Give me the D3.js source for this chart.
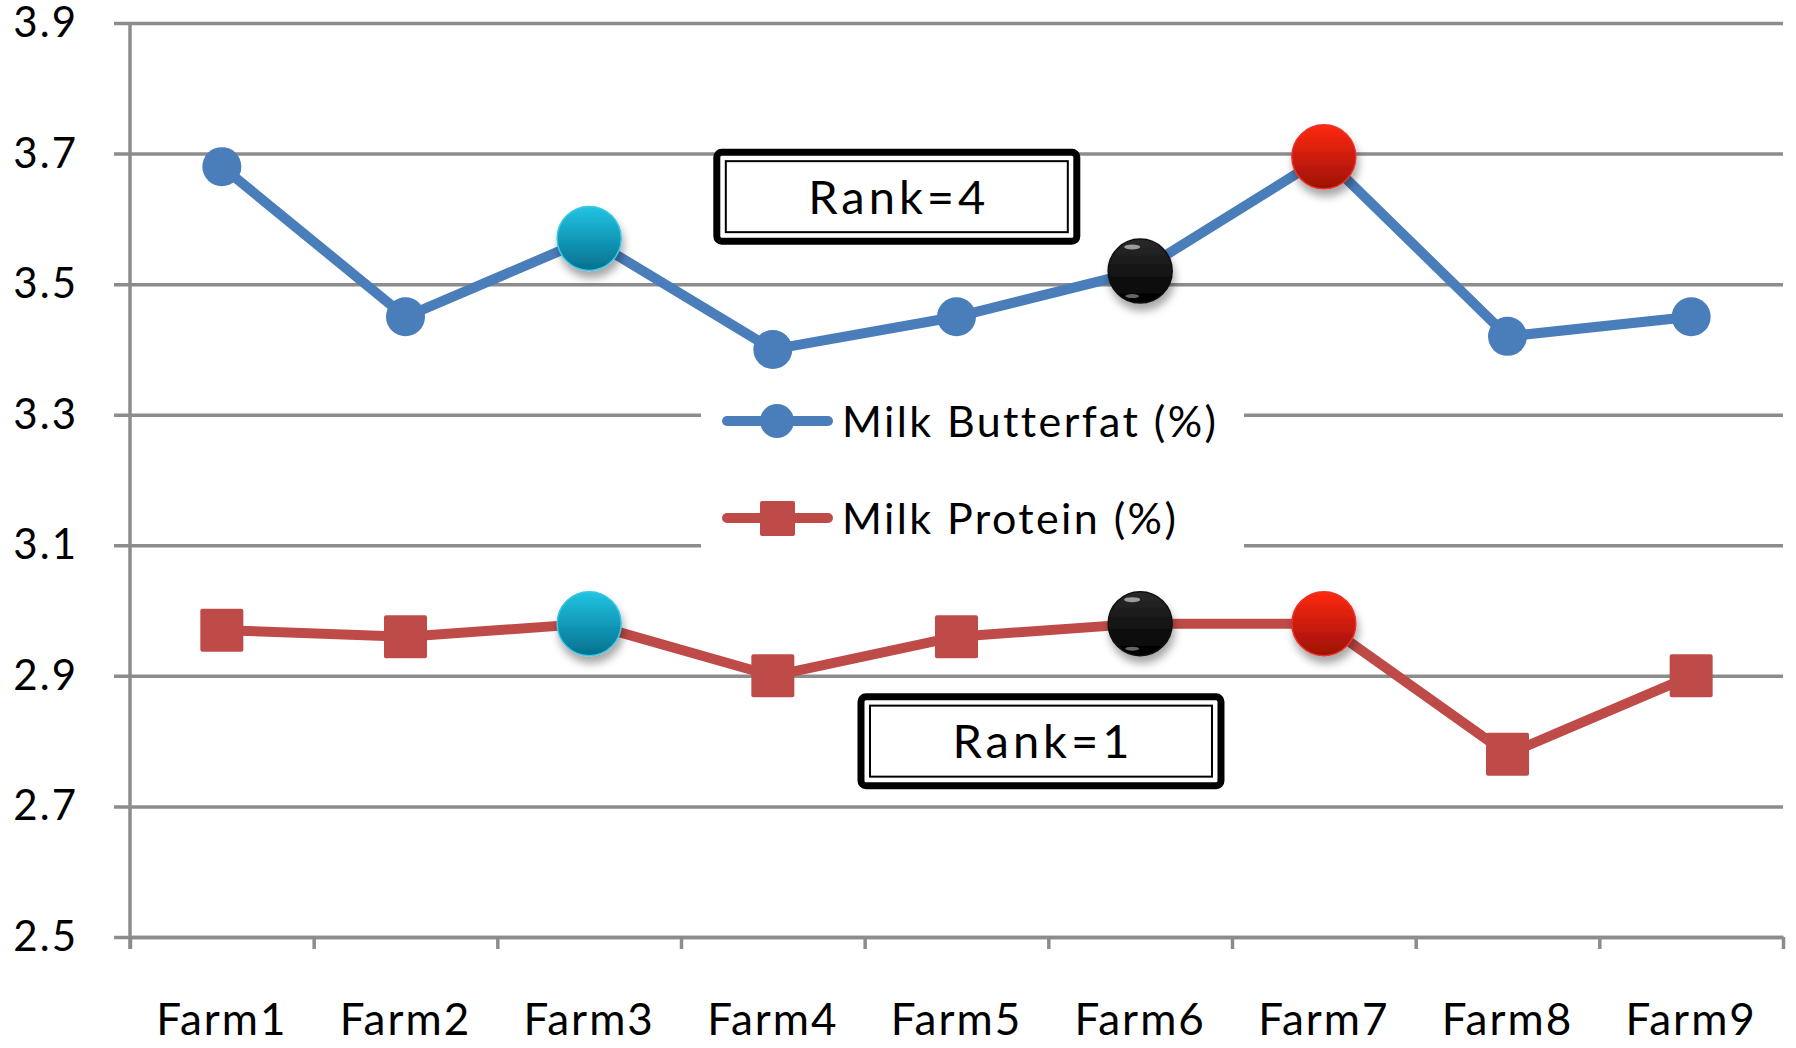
<!DOCTYPE html>
<html>
<head>
<meta charset="utf-8">
<script src="https://cdn.jsdelivr.net/npm/d3@7"></script>
<style>
  body { margin: 0; background: #fff; }
  svg { display: block; font-family: Lato, "Open Sans", sans-serif; }
</style>
</head>
<body>
<svg></svg>
<script>
var width = 1796;
var height = 1048;
var plotLeft = 130;
var plotRight = 1783;
var plotTop = 23;
var plotBottom = 937;

// data
var farms = ['Farm1', 'Farm2', 'Farm3', 'Farm4', 'Farm5', 'Farm6', 'Farm7', 'Farm8', 'Farm9'];
var butterfat = [3.68, 3.45, 3.57, 3.40, 3.45, 3.52, 3.695, 3.42, 3.45];
var protein = [2.97, 2.96, 2.98, 2.90, 2.96, 2.98, 2.98, 2.78, 2.90];
var yTicks = [2.5, 2.7, 2.9, 3.1, 3.3, 3.5, 3.7, 3.9];
var highlights = [{farm: 'Farm3', color: 'cyan'}, {farm: 'Farm6', color: 'black'}, {farm: 'Farm7', color: 'red'}];
// annotation anchors: x in category units (0 = left edge), y in data units
var rankLabels = [{text: 'Rank=4', at: 4.175, value: 3.634}, {text: 'Rank=1', at: 4.96, value: 2.80}];

var blue = '#4a7ebb';
var red = '#be4b48';
var grid = '#8c8c8c';

var svg = d3.select('svg')
            .attr('width', width)
            .attr('height', height);

var yScale = d3.scaleLinear()
               .domain([2.5, 3.9])
               .range([plotBottom, plotTop]);

var xScale = d3.scaleBand()
               .domain(farms)
               .range([plotLeft, plotRight]);

var xEdge = d3.scaleLinear()
              .domain([0, farms.length])
              .range([plotLeft, plotRight]);

function cx(i){ return xScale(farms[i]) + xScale.bandwidth() / 2; }

// gradients and shadow for the highlighted balls
var defs = svg.append('defs');

var shadow = defs.append('filter')
                 .attr('id', 'shadow')
                 .attr('x', '-50%').attr('y', '-50%')
                 .attr('width', '200%').attr('height', '200%');
shadow.append('feDropShadow')
      .attr('dx', 2).attr('dy', 7)
      .attr('stdDeviation', 4)
      .attr('flood-color', '#000')
      .attr('flood-opacity', 0.35);

var ballColors = {
  cyan: {top: '#22c4e4', bottom: '#03708e', edge: '#3cc6e2'},
  red: {top: '#ff2a12', bottom: '#9c1004', edge: '#e8322e'},
  black: {top: '#2a2a2a', bottom: '#000000', edge: '#111111'}
};

Object.keys(ballColors).forEach(function(k){
  var c = ballColors[k];
  var g = defs.append('linearGradient')
              .attr('id', 'ball-' + k)
              .attr('x1', 0).attr('y1', 0)
              .attr('x2', 0).attr('y2', 1);
  g.append('stop').attr('offset', '0%').attr('stop-color', c.top);
  g.append('stop').attr('offset', '100%').attr('stop-color', c.bottom);
});

// y gridlines + labels
var yAxis = svg.append('g')
               .attr('transform', `translate(${plotLeft - 16}, 0)`)
               .call(d3.axisLeft(yScale)
                         .tickValues(yTicks)
                         .tickSize(-(plotRight - plotLeft + 16))
                         .tickPadding(36)
                         .tickFormat(d3.format('.1f')))
               .attr('font-family', null);
yAxis.select('.domain').remove();
yAxis.selectAll('.tick line')
     .attr('stroke', grid)
     .attr('stroke-width', 3.5);
yAxis.selectAll('.tick text')
     .attr('font-size', 42)
     .attr('letter-spacing', 2)
     .attr('fill', '#000');

// x axis tick marks
var xAxis = svg.append('g')
               .attr('transform', `translate(0, ${plotBottom})`)
               .call(d3.axisBottom(xEdge)
                         .ticks(farms.length)
                         .tickSize(12)
                         .tickSizeOuter(0)
                         .tickFormat(''));
xAxis.select('.domain')
     .attr('stroke', grid)
     .attr('stroke-width', 3.5);
xAxis.selectAll('.tick line')
     .attr('stroke', grid)
     .attr('stroke-width', 3.5);

// x labels
var xLabels = svg.append('g')
                 .attr('transform', `translate(0, ${plotBottom})`)
                 .call(d3.axisBottom(xScale)
                           .tickSize(0)
                           .tickPadding(67))
                 .attr('font-family', null);
xLabels.select('.domain').remove();
xLabels.selectAll('.tick text')
       .attr('font-size', 44)
       .attr('letter-spacing', 2)
       .attr('fill', '#000');

// vertical axis line
svg.append('line')
   .attr('x1', plotLeft).attr('x2', plotLeft)
   .attr('y1', plotTop).attr('y2', plotBottom + 12)
   .attr('stroke', grid)
   .attr('stroke-width', 3.5);

// legend
var legend = svg.append('g');
legend.append('rect')
      .attr('x', 701).attr('y', 380)
      .attr('width', 543).attr('height', 182)
      .attr('fill', '#fff');

var legendItems = [
  {name: 'Milk Butterfat (%)', color: blue, shape: 'circle', y: 421},
  {name: 'Milk Protein (%)', color: red, shape: 'square', y: 518}
];

legendItems.forEach(function(d){
  legend.append('line')
        .attr('x1', 727).attr('x2', 828)
        .attr('y1', d.y).attr('y2', d.y)
        .attr('stroke', d.color)
        .attr('stroke-width', 10)
        .attr('stroke-linecap', 'round');
  if(d.shape === 'circle'){
    legend.append('circle')
          .attr('cx', 777).attr('cy', d.y)
          .attr('r', 17)
          .attr('fill', d.color);
  } else {
    legend.append('rect')
          .attr('x', 760).attr('y', d.y - 17)
          .attr('width', 35).attr('height', 35)
          .attr('rx', 2)
          .attr('fill', d.color);
  }
  legend.append('text')
        .attr('x', 842).attr('y', d.y + 16)
        .attr('font-size', 43)
        .attr('letter-spacing', 2.4)
        .text(d.name);
});

var line = d3.line()
             .x(function(d, i){ return cx(i); })
             .y(function(d){ return yScale(d); });

// butterfat
svg.append('path')
   .datum(butterfat)
   .attr('fill', 'none')
   .attr('stroke', blue)
   .attr('stroke-width', 10)
   .attr('stroke-linejoin', 'round')
   .attr('d', line);

svg.selectAll('circle.bf')
   .data(butterfat)
   .enter()
   .append('circle')
     .classed('bf', true)
     .attr('cx', function(d, i){ return cx(i); })
     .attr('cy', d => yScale(d))
     .attr('r', 19.5)
     .attr('fill', blue);

// protein
svg.append('path')
   .datum(protein)
   .attr('fill', 'none')
   .attr('stroke', red)
   .attr('stroke-width', 10)
   .attr('stroke-linejoin', 'round')
   .attr('d', line);

svg.selectAll('rect.pr')
   .data(protein)
   .enter()
   .append('rect')
     .classed('pr', true)
     .attr('x', function(d, i){ return cx(i) - 21.5; })
     .attr('y', d => yScale(d) - 21.5)
     .attr('width', 43)
     .attr('height', 43)
     .attr('rx', 2)
     .attr('fill', red);

// highlighted balls on both series
var balls = [];
highlights.forEach(function(h){
  var i = farms.indexOf(h.farm);
  balls.push({i: i, v: butterfat[i], color: h.color});
  balls.push({i: i, v: protein[i], color: h.color});
});

var ballG = svg.selectAll('g.ball')
               .data(balls)
               .enter()
               .append('g')
                 .classed('ball', true)
                 .attr('transform', d => `translate(${cx(d.i)}, ${yScale(d.v)})`);

ballG.append('circle')
     .attr('r', 32)
     .attr('fill', d => `url(#ball-${d.color})`)
     .attr('stroke', d => ballColors[d.color].edge)
     .attr('stroke-width', 1.5)
     .attr('filter', 'url(#shadow)');

// glossy highlights on the black balls
ballG.filter(d => d.color === 'black')
     .append('ellipse')
     .attr('cx', -8).attr('cy', -24)
     .attr('rx', 8).attr('ry', 2.5)
     .attr('fill', '#fff')
     .attr('opacity', 0.55);
ballG.filter(d => d.color === 'black')
     .append('ellipse')
     .attr('cx', -8).attr('cy', 25)
     .attr('rx', 7).attr('ry', 2)
     .attr('fill', '#fff')
     .attr('opacity', 0.4);

// rank boxes
var boxW = 360;
var boxH = 89;
var rank = svg.selectAll('g.rank')
              .data(rankLabels)
              .enter()
              .append('g')
                .classed('rank', true)
                .attr('transform', d => `translate(${xEdge(d.at) - boxW / 2}, ${yScale(d.value) - boxH / 2})`);

rank.append('rect')
    .attr('x', 0).attr('y', 0)
    .attr('width', boxW).attr('height', boxH)
    .attr('rx', 5)
    .attr('fill', '#fff')
    .attr('stroke', '#000')
    .attr('stroke-width', 7);

rank.append('rect')
    .attr('x', 9).attr('y', 9)
    .attr('width', boxW - 18).attr('height', boxH - 18)
    .attr('fill', 'none')
    .attr('stroke', '#000')
    .attr('stroke-width', 2);

rank.append('text')
    .attr('x', boxW / 2 + 2)
    .attr('y', boxH / 2 + 17)
    .attr('text-anchor', 'middle')
    .attr('font-size', 47)
    .attr('letter-spacing', 4)
    .text(d => d.text);
</script>
</body>
</html>
